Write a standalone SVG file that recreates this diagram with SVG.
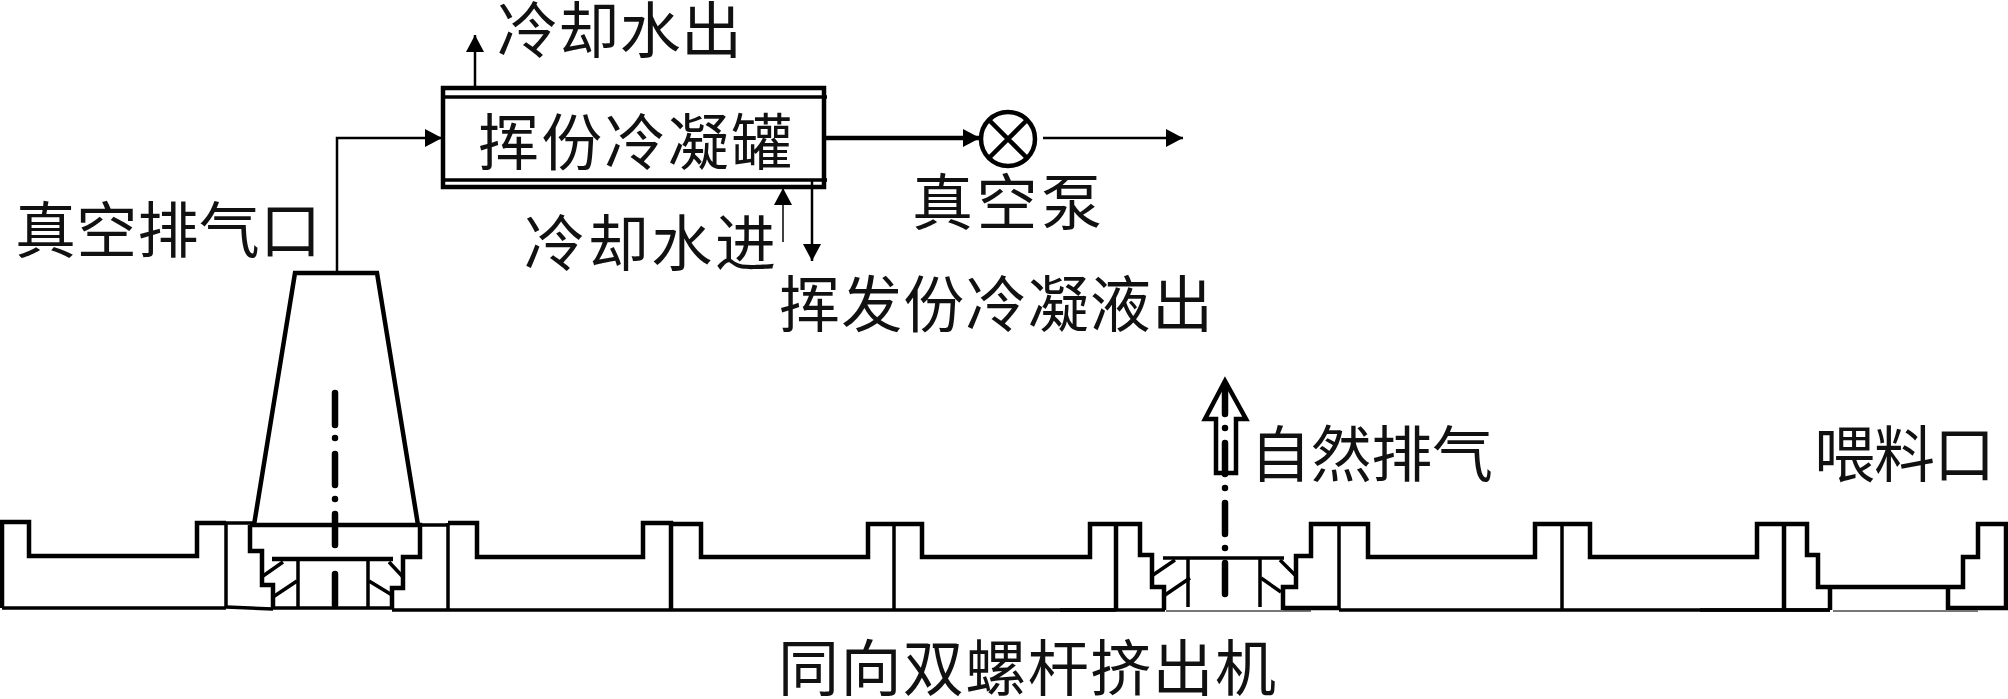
<svg xmlns="http://www.w3.org/2000/svg" width="2008" height="699" viewBox="0 0 2008 699">
<style>
text{font-family:"Noto Sans CJK SC","Noto Sans CJK TC",sans-serif;font-size:61px;font-weight:400;fill:#111}
.t{fill:none;stroke:#000;stroke-width:4.5;stroke-linejoin:miter}
.m{fill:none;stroke:#000;stroke-width:3.5}
.n{fill:none;stroke:#000;stroke-width:2.5}
.g{fill:none;stroke:#777;stroke-width:2}
.c{fill:none;stroke:#000;stroke-width:6.5;stroke-linecap:round}
</style>
<defs>
<marker id="ah" markerUnits="userSpaceOnUse" markerWidth="20" markerHeight="20" refX="18" refY="10" orient="auto"><path d="M1 1L18 10L1 19Z" fill="#000"/></marker>
</defs>
<rect width="2008" height="699" fill="#fff"/>
<g id="extruder">
<path class="t" d="M2 608V522H29V556H197V523H226"/>
<path class="m" d="M226 523H255M226 522V608M2 608H226"/>
<path class="m" d="M226 607L273 609M273 608H392M392 610H448"/>
<path class="m" d="M420 525H448M448 523V610M448 610H1116"/>
<path class="t" d="M448 523H477V557H643V523H671V610"/>
<path class="t" d="M671 524H701V557H868V524H922V557H1090V524H1140V555H1152V587H1164V610"/>
<path class="m" d="M894 524V610"/>
<path class="t" d="M1116 524V610"/>
<path class="m" d="M1060 610H1165"/>
<path class="g" d="M1166 611H1311"/>
<path class="t" d="M1283 610V587H1296V556H1311V524H1368V557H1535V524H1590V557H1757V524H1807V555H1818V587H1963V557H1978V524H2006V608H1948V587"/>
<path class="m" d="M1339 524V610M1339 610H1830M1562 524V610"/>
<path class="t" d="M1283 608H1339"/>
<path class="t" stroke-width="5" d="M1784 524V610M1830 587V610"/>
<path class="m" d="M1700 610H1830"/>
<path class="g" d="M1833 611H1978"/>
</g>
<g id="vent-port">
<path class="t" d="M254 525L295 273H377L418 525"/>
<path class="t" d="M250 525H420V557H403V588H392V609M250 525V551H262V585H273V608"/>
<path class="t" d="M272 559H393"/>
<path class="m" d="M298 559V607M368 559V607"/>
<path class="m" d="M263 576L283 562M273 597L297 581M389 562L403 577M369 581L392 595"/>
<path class="c" d="M335 393V425M335 438V438.1M335 454V485M335 499V499.1M335 514V545M335 574V605"/>
</g>
<g id="natural-vent">
<path class="m" d="M1163 558H1284"/>
<path class="m" d="M1188 558V607M1260 558V607"/>
<path class="m" d="M1153 575L1175 560M1165 595L1190 578M1280 560L1295 575M1261 578L1281 592"/>
<path class="t" d="M1216 473V419H1205L1225 381L1246 419H1236V473Z"/>
<path class="c" d="M1225 388V414M1225 428V428.1M1225 443V474M1225 488V488.1M1225 503V534M1225 548V548.1M1225 563V594"/>
</g>
<g id="condenser">
<rect class="t" x="443" y="88" width="381" height="99"/>
<path class="m" stroke="#555" d="M443 97H827M443 180H827"/>
</g>
<g id="pump">
<circle cx="1008" cy="139" r="27" class="t"/>
<path class="t" d="M989 120L1027 158M1027 120L989 158"/>
</g>
<g id="connectors">
<path class="n" d="M337 273V138H442" marker-end="url(#ah)"/>
<path class="n" d="M475 88V35" marker-end="url(#ah)"/>
<path class="t" d="M825 138H980" marker-end="url(#ah)"/>
<path class="n" d="M1043 138H1183" marker-end="url(#ah)"/>
<path fill="none" stroke="#000" stroke-width="1.5" d="M783 242V188" marker-end="url(#ah)"/>
<path class="n" d="M812 180V261" marker-end="url(#ah)"/>
</g>
<g id="labels">
<text x="497" y="53" textLength="245">冷却水出</text>
<text x="478" y="165" textLength="314">挥份冷凝罐</text>
<text x="15" y="253" textLength="306">真空排气口</text>
<text x="524" y="266" textLength="252">冷却水进</text>
<text x="912" y="225" textLength="190">真空泵</text>
<text x="779" y="327" textLength="434">挥发份冷凝液出</text>
<text x="1250" y="477" textLength="243">自然排气</text>
<text x="1814" y="477" textLength="181">喂料口</text>
<text x="778" y="691" textLength="498">同向双螺杆挤出机</text>
</g>
</svg>
